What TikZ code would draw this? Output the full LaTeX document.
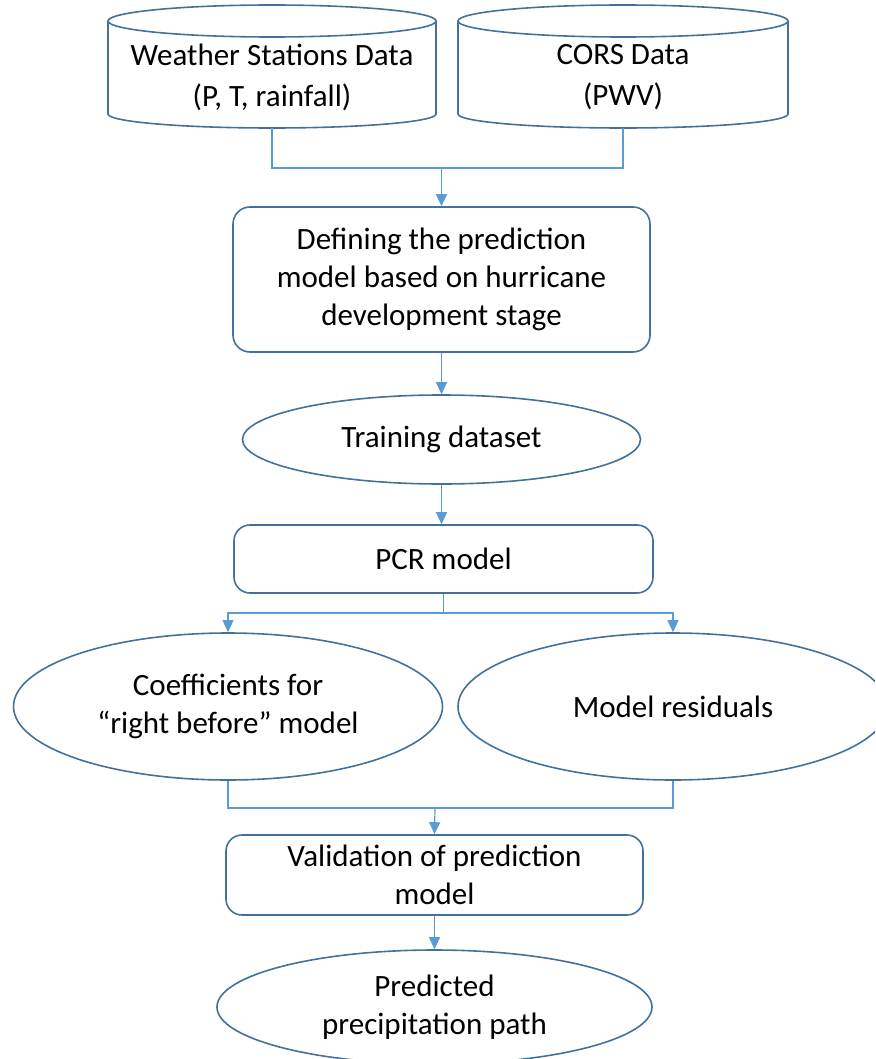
\documentclass[tikz,border=0pt]{standalone}
\usepackage{fontspec}
\setmainfont{Carlito}
\usetikzlibrary{shapes.geometric,arrows.meta}
\definecolor{shapeblue}{HTML}{41719C}
\definecolor{linkblue}{HTML}{5B9BD5}

\begin{document}
\begin{tikzpicture}[x=1pt,y=1pt,
        font=\fontsize{31}{38}\selectfont,
        tank/.style={align=center,inner sep=0pt,minimum width=330pt,minimum height=102pt},
        tankline/.style={draw=shapeblue,line width=1.6pt},
        box/.style={draw=shapeblue,line width=1.6pt,rounded corners=16pt,align=center,inner sep=0pt},
        oval/.style={draw=shapeblue,line width=1.6pt,ellipse,align=center,inner sep=0pt},
        link/.style={draw=linkblue,line width=1.2pt},
        arrow/.style={link,-{Triangle[length=12pt,width=11pt]}}]
        \useasboundingbox (0,0) rectangle (875,-1059);
        \clip (0,0) rectangle (875,-1059);
        %% Data sources
        \node[tank] (wx) at (272,-77) {Weather Stations Data\\[3pt](P, T, rainfall)};
        \draw[tankline] (272,-21) ellipse (164pt and 16pt);
        \draw[tankline] (108,-21) -- (108,-114) arc (180:360:164pt and 14pt) -- (436,-21);
        \node[tank] (cors) at (623,-77) {CORS Data\\[3pt](PWV)};
        \draw[tankline] (623,-21) ellipse (165pt and 16pt);
        \draw[tankline] (458,-21) -- (458,-114) arc (180:360:165pt and 14pt) -- (788,-21);
        %% Model chain
        \node[box,minimum width=417pt,minimum height=145pt,rounded corners=17pt] (def) at (441.5,-279.5) {Defining the prediction\\model based on hurricane\\development stage};
        \node[oval,minimum width=398pt,minimum height=89pt] (train) at (441.5,-439.5) {Training dataset};
        \node[box,minimum width=419pt,minimum height=68pt] (pcr) at (443.5,-559) {PCR model};
        \node[oval,minimum width=429pt,minimum height=147pt] (coef) at (228,-706.5) {Coefficients for\\“right before” model};
        \node[oval,minimum width=430pt,minimum height=147pt] (resid) at (673,-706.5) {Model residuals};
        \node[box,minimum width=417pt,minimum height=80pt] (valid) at (434.5,-875) {Validation of prediction\\model};
        \node[oval,minimum width=435pt,minimum height=114pt] (pred) at (434.5,-1007) {Predicted\\precipitation path};
        %% Connectors
        \coordinate (j1) at (441.5,-168);
        \draw[link] (wx.south) |- (j1) -| (cors.south);
        \draw[arrow] (j1) -- (def.north);
        \draw[arrow] (def.south) -- (train.north);
        \draw[arrow] (train.south) -- (pcr.north -| train.south);
        \coordinate (j2) at (443.5,-613);
        \draw[link] (pcr.south) -- (j2);
        \draw[arrow] (j2) -| (coef.north);
        \draw[arrow] (j2) -| (resid.north);
        \coordinate (j3) at (435,-808);
        \draw[link] (coef.south) |- (j3) -| (resid.south);
        \draw[arrow] (j3) -- (valid.north);
        \draw[arrow] (valid.south) -- (pred.north);
    \end{tikzpicture}
\end{document}
